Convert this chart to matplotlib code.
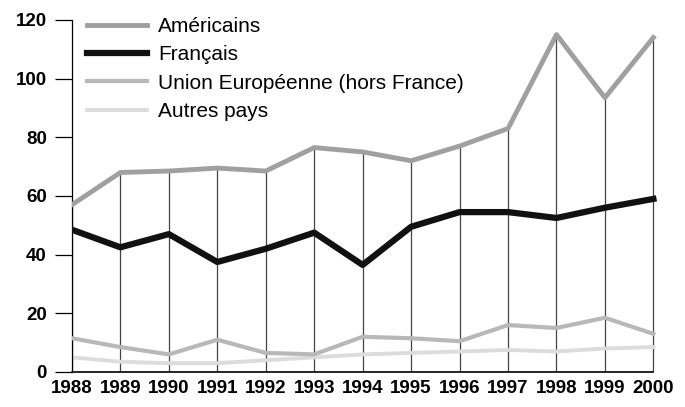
import matplotlib
matplotlib.use("Agg")
import matplotlib.pyplot as plt

years = [1988, 1989, 1990, 1991, 1992, 1993, 1994, 1995, 1996, 1997, 1998, 1999, 2000]
americains = [57, 68, 68.5, 69.5, 68.5, 76.5, 75, 72, 77, 83, 115, 93.5, 114]
francais = [48.5, 42.5, 47, 37.5, 42, 47.5, 36.5, 49.5, 54.5, 54.5, 52.5, 56, 59]
union_europeenne = [11.5, 8.5, 6, 11, 6.5, 6, 12, 11.5, 10.5, 16, 15, 18.5, 13]
autres_pays = [5, 3.5, 3, 3, 4, 5, 6, 6.5, 7, 7.5, 7, 8, 8.5]
labels = ["Américains", "Français", "Union Européenne (hors France)", "Autres pays"]
yticks = [0, 20, 40, 60, 80, 100, 120]

plt.rcParams['font.family'] = ['Liberation Sans', 'DejaVu Sans']

fig = plt.figure(figsize=(6.85, 4.07), dpi=100)
ax = fig.add_axes([0.105, 0.086, 0.863, 0.865])

ax.vlines(years, 0, americains, color='#444444', lw=0.9, zorder=1)
ax.plot(years, americains, color='#a0a0a0', lw=3.5, label=labels[0], zorder=3)
ax.plot(years, francais, color='#111111', lw=4.5, label=labels[1], zorder=4)
ax.plot(years, union_europeenne, color='#b8b8b8', lw=3.0, label=labels[2], zorder=3)
ax.plot(years, autres_pays, color='#dcdcdc', lw=2.8, label=labels[3], zorder=2)

ax.set_xlim(1988, 2000.2)
ax.set_ylim(0, 120)
ax.set_xticks(years)
ax.set_xticklabels([str(y) for y in years], fontsize=13.5, fontweight='bold')
ax.set_yticks(yticks)
ax.set_yticklabels([str(v) for v in yticks], fontsize=13.5, fontweight='bold')
ax.tick_params(axis='y', length=12, width=0.9, pad=6, direction='out')
ax.tick_params(axis='x', length=0, pad=6)
ax.spines['top'].set_visible(False)
ax.spines['right'].set_visible(False)
ax.spines['left'].set_linewidth(0.9)
ax.spines['bottom'].set_linewidth(1.2)
ax.spines['bottom'].set_bounds(1988, 2000)

leg = ax.legend(loc='upper left', bbox_to_anchor=(0.0, 1.05), frameon=False,
                fontsize=15, handlelength=2.9, handletextpad=0.55,
                labelspacing=0.45, borderaxespad=0.3)

fig.savefig('out.png', dpi=100)
